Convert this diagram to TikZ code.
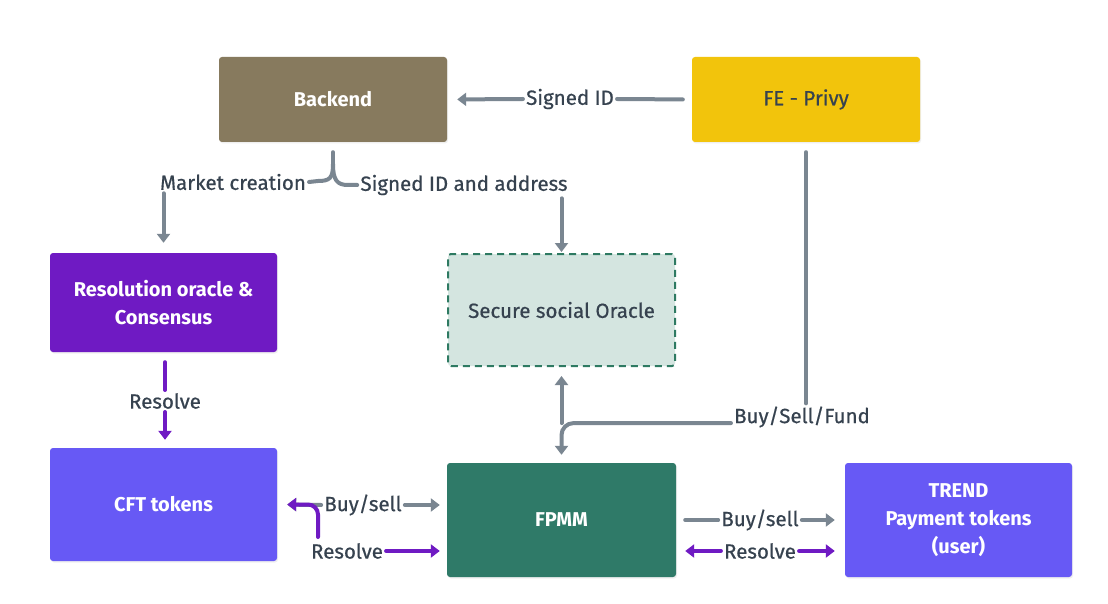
\documentclass[tikz,border=0pt]{standalone}
\usepackage{fontspec}
\setmainfont{Fira Sans}
\newfontfamily\lblfont{Fira Sans}[FakeBold=0.6]
\usetikzlibrary{arrows.meta,shadows}
\definecolor{cbackend}{HTML}{877A5E}
\definecolor{cfe}{HTML}{F2C40C}
\definecolor{cpurple}{HTML}{6F1AC3}
\definecolor{cssofill}{HTML}{D4E5E0}
\definecolor{cssoline}{HTML}{2E7A62}
\definecolor{cblue}{HTML}{6759F5}
\definecolor{cfpmm}{HTML}{2F7A68}
\definecolor{cgray}{HTML}{7A8691}
\definecolor{ctext}{HTML}{36424F}
\tikzset{
  box/.style={rectangle, rounded corners=3pt, minimum width=228pt, align=center,
    font=\fontsize{20}{28}\selectfont\bfseries, text=white,
    drop shadow={opacity=0.12, shadow xshift=1pt, shadow yshift=-1.5pt}},
  lbl/.style={font=\lblfont\fontsize{20.5}{24}\selectfont, text=ctext, inner sep=3pt},
  gline/.style={draw=cgray, line width=4pt, line cap=round},
  garr/.style={gline, -{Triangle[length=9pt,width=13pt]}},
  pline/.style={draw=cpurple, line width=4pt, line cap=round},
  parr/.style={pline, -{Triangle[length=9pt,width=13pt]}},
}
\begin{document}
\begin{tikzpicture}[x=1pt,y=-1pt]
\fill[white] (0,0) rectangle (1108,604);
\useasboundingbox (0,0) rectangle (1108,604);

% boxes
\node[box, fill=cbackend, minimum height=85pt] (backend) at (333,99.5) {Backend};
\node[box, fill=cfe, minimum height=85pt, text=ctext, font=\lblfont\fontsize{20.5}{24}\selectfont] (fe) at (806,99.5) {FE - Privy};
\node[box, fill=cpurple, minimum width=227pt, minimum height=99pt] (res) at (163.5,302.5) {Resolution oracle \&\\Consensus};
\node[rectangle, rounded corners=3pt, fill=cssofill, draw=cssoline, line width=2pt,
  dash pattern=on 7pt off 5pt, minimum width=227pt, minimum height=112pt,
  font=\lblfont\fontsize{20.5}{24}\selectfont, text=ctext] (sso) at (561.5,310) {Secure social Oracle};
\node[box, fill=cblue, minimum width=227pt, minimum height=113pt] (cft) at (163.5,504.5) {CFT tokens};
\node[box, fill=cfpmm, minimum width=229pt, minimum height=114pt] (fpmm) at (561.5,520) {FPMM};
\node[box, fill=cblue, minimum width=227pt, minimum height=114pt] (trend) at (958.5,520) {TREND\\Payment tokens\\(user)};

% labels
\node[lbl] (sid) at (570,99) {Signed ID};
\node[lbl] (mc) at (233,182) {Market creation};
\node[lbl] (sida) at (464,185) {Signed ID and address};
\node[lbl] (bsf) at (802,417) {Buy/Sell/Fund};
\node[lbl] (res1) at (165,401) {Resolve};
\node[lbl] (bs1) at (363,505) {Buy/sell};
\node[lbl] (res2) at (347,551) {Resolve};
\node[lbl] (bs2) at (760,520) {Buy/sell};
\node[lbl] (res3) at (760,551) {Resolve};

% Signed ID
\draw[garr, shorten >=10pt] (sid.west) -- (backend.east);
\draw[gline, shorten >=9pt] (sid.east) -- (fe.west);

% brace under backend
\coordinate (stem) at (333,164);
\draw[gline, shorten <=10pt] (backend.south) -- (stem);
\draw[gline] (stem) .. controls (333,178) and (330,181) .. (318,181) -- (mc.east);
\draw[gline] (stem) .. controls (333,180) and (337,185) .. (348,185) -- (sida.west);

% down arrows
\draw[garr, shorten >=10pt] (res.north |- mc.south) -- (res.north);
\draw[garr, shorten >=1pt] (sso.north |- sida.south) -- (sso.north);

% FE to Buy/Sell/Fund
\draw[gline, shorten <=10pt] (fe.south) -- (fe.south |- bsf.north);
\draw[garr, rounded corners=12pt, shorten >=8pt] (bsf.base west) -| (fpmm.north);
\draw[garr, shorten >=9pt] (fpmm.north |- bsf.base) -- (sso.south);

% Resolve vertical
\draw[pline, shorten <=10pt] (res1.north |- res.south) -- (res1.north);
\draw[parr, shorten >=8pt] (res1.south) -- (res1.south |- cft.north);

% CFT <-> FPMM
\draw[garr, shorten >=10pt] (bs1.west) -- (cft.east);
\draw[garr, shorten >=7pt] (bs1.east) -- (fpmm.west |- bs1);
\draw[parr, shorten >=7pt] (res2.east) -- (fpmm.west |- res2);
\coordinate (rc) at (318,537);
\draw[parr, rounded corners=10pt, shorten >=10pt] (rc) |- (cft.east);

% FPMM <-> TREND
\draw[gline, shorten <=9pt] (fpmm.east |- bs2) -- (bs2.west);
\draw[garr, shorten >=10pt] (bs2.east) -- (trend.west |- bs2);
\draw[parr, shorten >=9pt] (res3.west) -- (fpmm.east |- res3);
\draw[parr, shorten >=10pt] (res3.east) -- (trend.west |- res3);
\end{tikzpicture}
\end{document}
